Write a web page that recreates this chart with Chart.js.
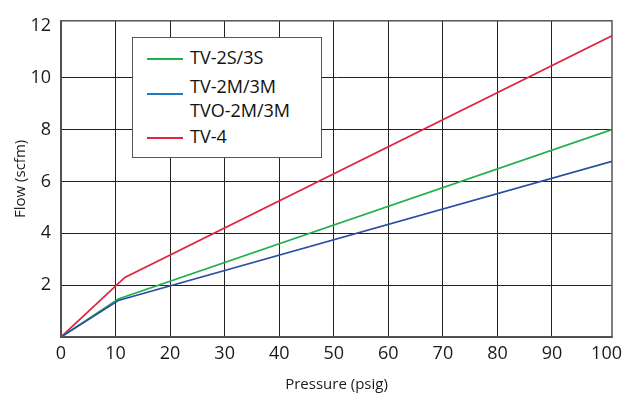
<!DOCTYPE html>
<html>
<head>
<meta charset="utf-8">
<script src="https://cdn.jsdelivr.net/npm/chart.js@4/dist/chart.umd.min.js"></script>
<style>
  html, body { margin: 0; padding: 0; background: #fff; }
  #wrap { position: relative; width: 642px; height: 394px; }
  #legend {
    position: absolute; left: 132px; top: 37px; width: 188px; height: 119px;
    border: 1.5px solid #555; background: #fff;
    font-family: "Open Sans", sans-serif; font-size: 18px; color: #111;
  }
  #legend .item { position: absolute; left: 0; }
  #legend .swatch { position: absolute; left: 14px; width: 36px; height: 2px; }
  #legend .text { position: absolute; left: 57px; white-space: nowrap; line-height: 24px; }
</style>
</head>
<body>
<div id="wrap">
  <canvas id="chart" width="642" height="394"></canvas>
  <div id="legend"></div>
</div>
<script>
// pressure (psig) / flow (scfm) points for each valve series
const tv2sPressure = [0, 10.5, 101];
const tv2sFlow = [0, 1.47, 8.0];
const tv2mPressure = [0, 10.5, 101];
const tv2mFlow = [0, 1.41, 6.78];
const tv4Pressure = [0, 11.7, 101];
const tv4Flow = [0, 2.3, 11.62];

const seriesNames = [['TV-2S/3S'], ['TV-2M/3M', 'TVO-2M/3M'], ['TV-4']];
const xTicks = [0, 10, 20, 30, 40, 50, 60, 70, 80, 90, 100];
const yTicks = [0, 2, 4, 6, 8, 10, 12];

const toPoints = (xs, ys) => xs.map((x, i) => ({ x: x, y: ys[i] }));

const gridColor = ctx => {
  const v = ctx.tick ? ctx.tick.value : null;
  if (v === 12 || v === 100) return 'rgba(0,0,0,0)';
  return '#222';
};

const datasets = [
  { label: seriesNames[0].join(' '), data: toPoints(tv2sPressure, tv2sFlow), borderColor: '#1db04c', legendColor: '#1db04c', order: 1 },
  { label: seriesNames[1].join(' '), data: toPoints(tv2mPressure, tv2mFlow), borderColor: '#2c4ea3', legendColor: '#1f7cc2', order: 0 },
  { label: seriesNames[2].join(' '), data: toPoints(tv4Pressure, tv4Flow), borderColor: '#e0243f', legendColor: '#e0243f', order: 2 }
];
datasets.forEach(d => {
  d.borderWidth = 1.7;
  d.pointRadius = 0;
  d.tension = 0;
  d.fill = false;
});

const ctx = document.getElementById('chart').getContext('2d');
new Chart(ctx, {
  type: 'line',
  data: { datasets: datasets },
  options: {
    responsive: false,
    animation: false,
    layout: { padding: { top: 9, right: 30, left: 0, bottom: 0 } },
    plugins: { legend: { display: false }, tooltip: { enabled: false } },
    scales: {
      x: {
        type: 'linear',
        min: 0,
        max: 101,
        afterBuildTicks: s => { s.ticks = xTicks.map(v => ({ value: v })); },
        afterFit: s => { s.height = 57; },
        grid: { color: gridColor, lineWidth: 1, drawTicks: false },
        border: { color: '#555', width: 1.5 },
        ticks: { color: '#1a1a1a', padding: 6, maxRotation: 0, autoSkip: false,
                  font: { family: 'Open Sans', size: 18 } },
        title: { display: true, text: 'Pressure (psig)', color: '#1a1a1a', padding: { top: 1, bottom: 0 },
                 font: { family: 'Open Sans', size: 15 } }
      },
      y: {
        min: 0,
        max: 12.2,
        afterBuildTicks: s => { s.ticks = yTicks.map(v => ({ value: v })); },
        afterFit: s => { s.width = 61; },
        grid: { color: gridColor, lineWidth: 1, drawTicks: false },
        border: { color: '#555', width: 1.5 },
        ticks: { color: '#1a1a1a', padding: 10, autoSkip: false,
                 callback: v => (v === 0 ? '' : v),
                 font: { family: 'Open Sans', size: 18 } },
        title: { display: true, text: 'Flow (scfm)', color: '#1a1a1a', padding: { top: 12, bottom: 0 },
                 font: { family: 'Open Sans', size: 15 } }
      }
    }
  },
  plugins: [{
    id: 'frame',
    afterDraw(chart) {
      const a = chart.chartArea, c = chart.ctx;
      c.save();
      c.strokeStyle = '#555';
      c.lineWidth = 1.5;
      c.strokeRect(a.left, a.top, a.right - a.left, a.bottom - a.top);
      c.restore();
    }
  }]
});

// legend, laid out like the reference box
const legend = document.getElementById('legend');
const rows = [
  { swatchY: 20, textY: 7 },
  { swatchY: 55, textY: 36 },
  { swatchY: 99, textY: 86 }
];
datasets.forEach((d, i) => {
  const item = document.createElement('div');
  item.className = 'item';
  const sw = document.createElement('div');
  sw.className = 'swatch';
  sw.style.top = rows[i].swatchY + 'px';
  sw.style.background = d.legendColor;
  const tx = document.createElement('div');
  tx.className = 'text';
  tx.style.top = rows[i].textY + 'px';
  tx.innerHTML = seriesNames[i].join('<br>');
  item.appendChild(sw);
  item.appendChild(tx);
  legend.appendChild(item);
});
</script>
</body>
</html>
